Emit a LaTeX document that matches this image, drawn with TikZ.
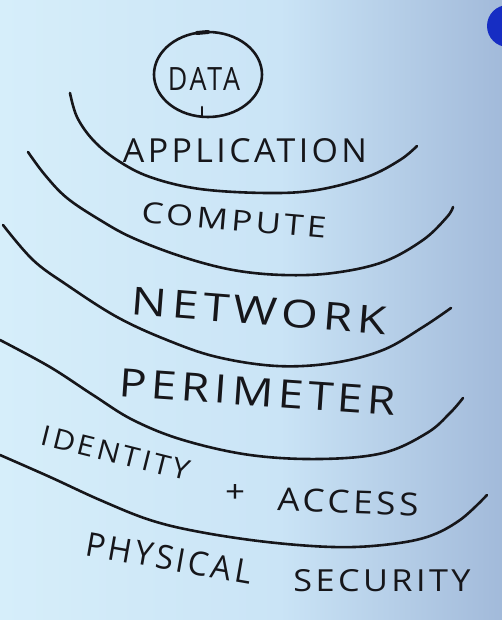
\documentclass[tikz,border=0pt]{standalone}
\usepackage{fontspec}
\setmainfont{Open Sans}[LetterSpace=10]
\usepackage{graphicx}
\usetikzlibrary{shapes.geometric}
\definecolor{ink}{RGB}{22,22,26}
\definecolor{bgl}{RGB}{214,238,250}
\definecolor{bgm}{RGB}{202,228,246}
\definecolor{bgr}{RGB}{162,186,218}
\definecolor{pincol}{RGB}{22,45,195}
\newcommand{\hwtext}[3]{\resizebox{#1pt}{#2pt}{#3}}
\tikzset{
  lbl/.style={text=ink, inner sep=0pt},
  layer/.style={draw=ink, line width=2.6pt, line cap=round, line join=round},
}
\begin{document}
\begin{tikzpicture}[x=1pt,y=-1pt]
\useasboundingbox (0,0) rectangle (502,620);
\shade[left color=bgl, right color=bgm] (0,0) rectangle (281,620);
\shade[left color=bgm, right color=bgr] (280,0) rectangle (502,620);
\fill[pincol] (508,26) circle (21);

% data
\node[draw=ink, line width=2.6pt, ellipse, minimum width=108pt, minimum height=85pt, inner sep=0pt] (core) at (208,74.5) {};
\draw[layer, line width=4pt] (197,33) -- (208,32);
\draw[layer] (202,107) -- (202,116);
\node[lbl] (data) at (204,79) {\hwtext{72}{23}{DATA}};

% arcs
\draw[layer] plot[smooth, tension=0.6] coordinates {(70,93) (77,117) (93,140) (117,160) (150,177) (200,189) (267,193) (317,190) (367,177) (400,160) (417,146)};
\draw[layer] plot[smooth, tension=0.6] coordinates {(28,152) (45,175) (67,198) (100,220) (133,238) (183,257) (233,270) (283,275) (333,273) (383,262) (423,240) (447,217) (453,207)};
\draw[layer] plot[smooth, tension=0.6] coordinates {(3,225) (33,260) (67,285) (117,317) (167,340) (217,357) (277,366) (333,363) (383,350) (423,327) (451,308)};
\draw[layer] plot[smooth, tension=0.6] coordinates {(0,340) (50,367) (93,395) (133,420) (183,440) (250,455) (320,459) (383,453) (427,433) (450,413) (463,398)};
\draw[layer] plot[smooth, tension=0.6] coordinates {(0,455) (50,477) (100,500) (150,520) (200,532) (267,542) (333,547) (383,545) (427,537) (460,520) (487,495)};

% labels
\node[lbl] (app) at (245,151) {\hwtext{244}{24}{APPLICATION}};
\node[lbl, rotate=-5] (comp) at (234,220) {\hwtext{185}{21}{COMPUTE}};
\node[lbl, rotate=-4.5] (net) at (259,311) {\hwtext{255}{28}{NETWORK}};
\node[lbl, rotate=-4] (peri) at (258,392) {\hwtext{277}{28}{PERIMETER}};
\node[lbl, rotate=-14] (ident) at (116,453) {\hwtext{152}{20}{IDENTITY}};
\node[lbl] (plus) at (235,493) {\hwtext{20}{18}{+}};
\node[lbl, rotate=-2] (acc) at (348,502) {\hwtext{141}{23}{ACCESS}};
\node[lbl, rotate=-10] (phys) at (169,558) {\hwtext{168}{24}{PHYSICAL}};
\node[lbl] (sec) at (382,581) {\hwtext{177}{22}{SECURITY}};
\end{tikzpicture}
\end{document}
